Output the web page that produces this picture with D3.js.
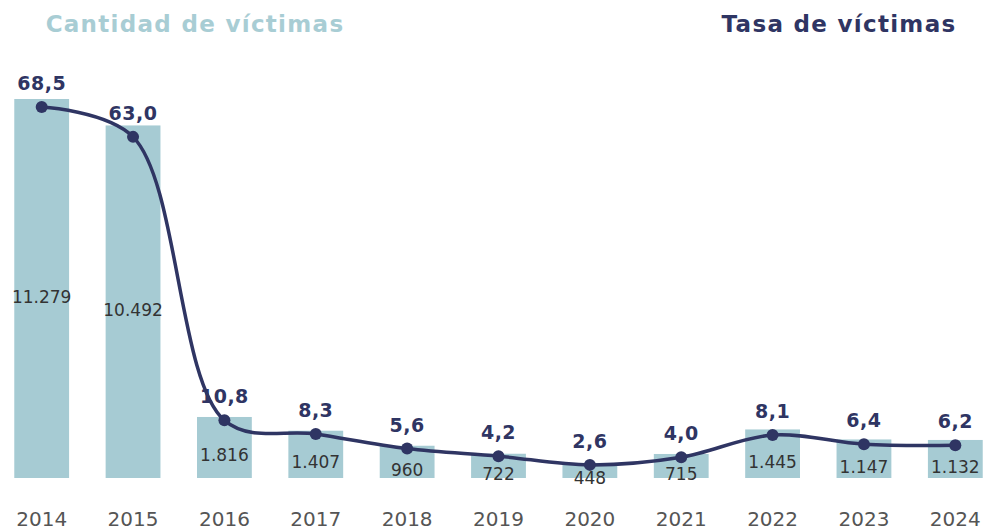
<!DOCTYPE html>
<html><head><meta charset="utf-8">
<script src="https://cdn.jsdelivr.net/npm/d3@7"></script>
<style>body{margin:0;background:#fff}svg{display:block}</style>
</head><body><svg id="c" width="987" height="532"></svg>
<script>
const years = ["2014","2015","2016","2017","2018","2019","2020","2021","2022","2023","2024"];
const victimCounts = [11279,10492,1816,1407,960,722,448,715,1445,1147,1132];
const victimRates = [68.5,63.0,10.8,8.3,5.6,4.2,2.6,4.0,8.1,6.4,6.2];
const titles = ["Cantidad de víctimas","Tasa de víctimas"];

const barColor="#a6cbd3", lineColor="#2f3563", font="'DejaVu Sans', sans-serif";
const svg=d3.select("#c");
const x=d3.scaleBand().domain(years).range([-4,1001]).paddingInner(0.4).paddingOuter(0.2);
const yCount=d3.scaleLinear().domain([0,11279]).range([478,99]);
const yRate=d3.scaleLinear().domain([0,68.5]).range([479,107]);
const loc=d3.formatLocale({decimal:",",thousands:".",grouping:[3],currency:["",""]});
const fmtCount=loc.format(",d"), fmtRate=loc.format(".1f");
const cx=d=>x(d)+x.bandwidth()/2;

svg.selectAll("rect.bar").data(years).join("rect").attr("class","bar")
  .attr("x",d=>x(d)).attr("width",x.bandwidth())
  .attr("y",(d,i)=>yCount(victimCounts[i])).attr("height",(d,i)=>yCount(0)-yCount(victimCounts[i]))
  .attr("fill",barColor);

svg.selectAll("text.cnt").data(years).join("text").attr("class","cnt")
  .attr("x",d=>cx(d)).attr("y",(d,i)=>(yCount(victimCounts[i])+yCount(0))/2+14)
  .attr("text-anchor","middle").attr("font-family",font).attr("font-size",17).attr("fill","#333")
  .text((d,i)=>fmtCount(victimCounts[i]));

const line=d3.line().x((d,i)=>cx(years[i])).y(d=>yRate(d)).curve(d3.curveCatmullRom.alpha(0.5));
svg.append("path").attr("d",line(victimRates)).attr("fill","none").attr("stroke",lineColor).attr("stroke-width",3.5);
svg.selectAll("circle").data(victimRates).join("circle")
  .attr("cx",(d,i)=>cx(years[i])).attr("cy",d=>yRate(d)).attr("r",6).attr("fill",lineColor);
svg.selectAll("text.rate").data(victimRates).join("text").attr("class","rate")
  .attr("x",(d,i)=>cx(years[i])).attr("y",d=>yRate(d)-17)
  .attr("text-anchor","middle").attr("font-family",font).attr("font-weight",700).attr("font-size",19)
  .attr("letter-spacing",0.5).attr("fill",lineColor)
  .text(d=>fmtRate(d));

const xAxis=svg.append("g").attr("transform","translate(0,478)").call(d3.axisBottom(x).tickSize(0).tickPadding(0));
xAxis.select(".domain").remove();
xAxis.selectAll("text").attr("y",48).attr("dy",0).attr("font-family",font).attr("font-size",20).attr("fill","#555");

svg.append("text").attr("x",195).attr("y",32).attr("text-anchor","middle").attr("font-family",font)
  .attr("font-weight",700).attr("font-size",23).attr("letter-spacing",1.3).attr("fill","#a8cdd4").text(titles[0]);
svg.append("text").attr("x",839).attr("y",32).attr("text-anchor","middle").attr("font-family",font)
  .attr("font-weight",700).attr("font-size",23).attr("letter-spacing",1.3).attr("fill",lineColor).text(titles[1]);
</script></body></html>
